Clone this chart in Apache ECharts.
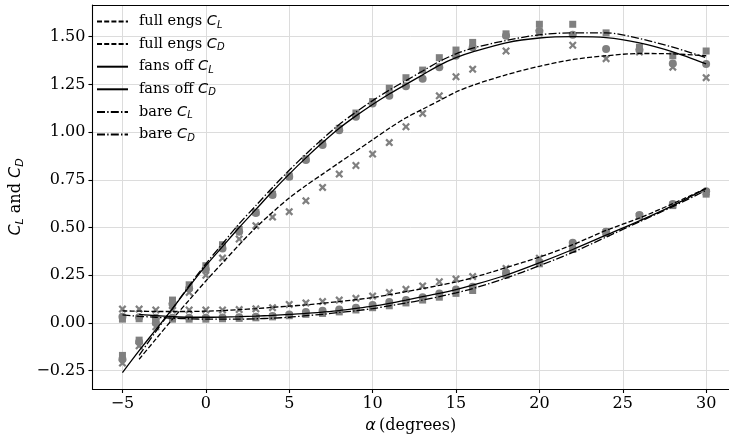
<!DOCTYPE html>
<html><head><meta charset="utf-8">
<script src="https://cdn.jsdelivr.net/npm/echarts@6/dist/echarts.min.js"></script>
<style>html,body{margin:0;padding:0;background:#fff}#c{width:729px;height:442px}</style>
</head><body><div id="c"></div>
<script>
const alpha = [-5,-4,-3,-2,-1,0,1,2,3,4,5,6,7,8,9,10,11,12,13,14,15,16,18,20,22,24,26,28,30];

// measured points (markers)
const fullCL = [-0.21,-0.12,-0.02,0.09,0.16,0.25,0.34,0.44,0.51,0.555,0.583,0.64,0.71,0.78,0.825,0.885,0.945,1.028,1.098,1.19,1.29,1.33,1.425,1.52,1.455,1.385,1.42,1.34,1.285];
const fansCL = [-0.19,-0.10,0.00,0.10,0.18,0.28,0.39,0.478,0.576,0.67,0.766,0.854,0.932,1.01,1.08,1.15,1.19,1.24,1.28,1.34,1.40,1.445,1.505,1.53,1.51,1.435,1.43,1.36,1.357];
const bareCL = [-0.17,-0.09,0.01,0.12,0.20,0.30,0.41,0.49,0.58,0.675,0.77,0.86,0.94,1.02,1.10,1.16,1.23,1.285,1.325,1.39,1.43,1.47,1.515,1.565,1.565,1.52,1.445,1.40,1.425];
const fullCD = [0.073,0.073,0.068,0.068,0.068,0.068,0.068,0.07,0.074,0.08,0.097,0.105,0.112,0.12,0.129,0.141,0.159,0.176,0.194,0.216,0.23,0.243,0.286,0.339,0.40,0.475,0.56,0.62,0.685];
const fansCD = [0.032,0.03,0.027,0.027,0.027,0.027,0.028,0.03,0.033,0.037,0.045,0.057,0.064,0.07,0.08,0.094,0.11,0.12,0.135,0.155,0.175,0.19,0.26,0.32,0.42,0.478,0.566,0.623,0.69];
const bareCD = [0.02,0.022,0.02,0.02,0.02,0.02,0.022,0.024,0.027,0.032,0.038,0.045,0.05,0.058,0.068,0.08,0.09,0.105,0.12,0.135,0.155,0.17,0.25,0.31,0.385,0.47,0.56,0.615,0.675];

// fitted curves (lines)
const fitFullCL = [null,-0.19,-0.085,0.02,0.12,0.22,0.315,0.41,0.50,0.58,0.655,0.72,0.78,0.84,0.90,0.96,1.02,1.075,1.12,1.165,1.21,1.245,1.30,1.345,1.38,1.40,1.412,1.41,1.40];
const fitFansCL = [-0.26,-0.145,-0.035,0.075,0.19,0.30,0.40,0.50,0.595,0.69,0.78,0.865,0.945,1.02,1.085,1.145,1.20,1.25,1.30,1.35,1.39,1.42,1.468,1.493,1.50,1.495,1.467,1.42,1.357];
const fitBareCL = [null,-0.17,-0.045,0.075,0.195,0.31,0.415,0.52,0.615,0.71,0.80,0.885,0.965,1.04,1.105,1.165,1.22,1.27,1.32,1.37,1.41,1.44,1.48,1.51,1.52,1.52,1.49,1.445,1.39];
const fitFullCD = [0.063,0.062,0.06,0.06,0.06,0.062,0.065,0.07,0.075,0.082,0.088,0.095,0.103,0.112,0.122,0.133,0.148,0.164,0.18,0.197,0.215,0.237,0.29,0.345,0.41,0.485,0.55,0.625,0.705];
const fitFansCD = [null,0.045,0.038,0.033,0.03,0.03,0.031,0.033,0.036,0.04,0.045,0.05,0.057,0.065,0.076,0.088,0.103,0.12,0.138,0.155,0.175,0.198,0.25,0.315,0.385,0.46,0.535,0.615,0.705];
const fitBareCD = [0.042,0.035,0.03,0.025,0.022,0.02,0.02,0.02,0.022,0.025,0.03,0.038,0.045,0.055,0.064,0.075,0.09,0.105,0.12,0.138,0.158,0.18,0.235,0.30,0.37,0.45,0.53,0.61,0.695];

const xTicks = [-5,0,5,10,15,20,25,30];
const yTicks = [-0.25,0,0.25,0.5,0.75,1.0,1.25,1.5];

const legendNames = ['full engs CL','full engs CD','fans off CL','fans off CD','bare CL','bare CD'];
const legendLabels = {
  'full engs CL': '{t|full engs }{i|C}{s|L}',
  'full engs CD': '{t|full engs }{i|C}{s|D}',
  'fans off CL': '{t|fans off }{i|C}{s|L}',
  'fans off CD': '{t|fans off }{i|C}{s|D}',
  'bare CL': '{t|bare }{i|C}{s|L}',
  'bare CD': '{t|bare }{i|C}{s|D}'
};

const pairs = (ys) => alpha.map((a, i) => [a, ys[i]]).filter(p => p[1] !== null);
const GREY = '#808080';
const XPATH = 'path://M0,2 L2,0 L5,3 L8,0 L10,2 L7,5 L10,8 L8,10 L5,7 L2,10 L0,8 L3,5 Z';
const DASH = [5, 2.2];
const DASHDOT = [8, 2.2, 1.4, 2.2];

function scatter(ys, sym, size) {
  return { type: 'scatter', data: pairs(ys), symbol: sym, symbolSize: size,
    itemStyle: { color: GREY, opacity: 1 }, z: 2, silent: true };
}
function line(name, ys, dash) {
  return { type: 'line', name: name, data: pairs(ys), smooth: 0.3, showSymbol: false, symbol: 'none',
    lineStyle: { color: '#000', width: 1.3, type: dash }, itemStyle: { color: '#000' }, z: 5, silent: true };
}

const serif = 'DejaVu Serif';
function rich(sz) {
  return {
    t: { fontFamily: serif, fontSize: sz, color: '#000' },
    n: { fontFamily: serif, fontSize: sz, color: '#000' },
    i: { fontFamily: 'DejaVu Sans', fontStyle: 'italic', fontSize: sz, color: '#000' },
    s: { fontFamily: 'DejaVu Sans', fontStyle: 'italic', fontSize: Math.round(sz * 0.7), color: '#000', padding: [Math.round(sz * 0.5), 0, 0, 0] }
  };
}

const X_MIN = -6.8, X_MAX = 31.37;
const chart = echarts.init(document.getElementById('c'), null, { renderer: 'canvas' });
chart.setOption({
  animation: false,
  backgroundColor: '#fff',
  grid: { left: 90, right: 0, top: 5, bottom: 53, show: false },
  legend: {
    data: legendNames, orient: 'vertical', left: 96, top: 14, padding: 0,
    itemWidth: 31, itemHeight: 18, itemGap: 6.6,
    formatter: (n) => legendLabels[n],
    itemStyle: { opacity: 0 },
    textStyle: { rich: rich(14.5), padding: [0, 0, 0, 6] },
    selectedMode: false
  },
  xAxis: [{
    type: 'value', min: X_MIN, max: X_MAX,
    name: '{i|α} {n|(degrees)}', nameLocation: 'middle', nameGap: 29,
    nameTextStyle: { rich: rich(16) },
    axisLine: { show: true, onZero: false, lineStyle: { color: '#000', width: 1.1 } },
    axisTick: { show: true, customValues: xTicks, length: 4, lineStyle: { color: '#000', width: 1.1 } },
    axisLabel: { customValues: xTicks, fontFamily: serif, fontSize: 16, color: '#000', margin: 7,
      formatter: (v) => String(v).replace('-', '\u2212') },
    splitLine: { show: true, lineStyle: { color: '#dcdcdc', width: 1 } }
  }, {
    type: 'value', position: 'top', min: X_MIN, max: X_MAX,
    axisLine: { show: true, onZero: false, lineStyle: { color: '#000', width: 1.1 } },
    axisTick: { show: false }, axisLabel: { show: false }, splitLine: { show: false }
  }],
  yAxis: {
    type: 'value', min: -0.346, max: 1.666,
    name: '{i|C}{s|L}{n| and }{i|C}{s|D}', nameLocation: 'middle', nameGap: 62, nameRotate: 90,
    nameTextStyle: { rich: rich(16) },
    axisLine: { show: true, onZero: false, lineStyle: { color: '#000', width: 1.1 } },
    axisTick: { show: true, customValues: yTicks, length: 4, lineStyle: { color: '#000', width: 1.1 } },
    axisLabel: { customValues: yTicks, fontFamily: serif, fontSize: 16, color: '#000', margin: 7,
      formatter: (v) => v.toFixed(2).replace('-', '\u2212') },
    splitLine: { show: true, lineStyle: { color: '#dcdcdc', width: 1 } }
  },
  series: [
    scatter(fullCL, XPATH, 8), scatter(fansCL, 'circle', 8), scatter(bareCL, 'rect', 7),
    scatter(fullCD, XPATH, 8), scatter(fansCD, 'circle', 8), scatter(bareCD, 'rect', 7),
    line('full engs CL', fitFullCL, DASH),
    line('full engs CD', fitFullCD, DASH),
    line('fans off CL', fitFansCL, 'solid'),
    line('fans off CD', fitFansCD, 'solid'),
    line('bare CL', fitBareCL, DASHDOT),
    line('bare CD', fitBareCD, DASHDOT)
  ]
});
</script></body></html>
